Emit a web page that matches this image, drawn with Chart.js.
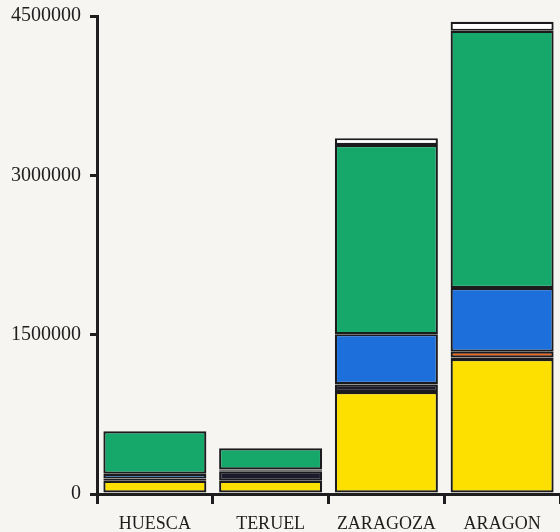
<!DOCTYPE html>
<html>
<head>
<meta charset="utf-8">
<script src="https://cdn.jsdelivr.net/npm/chart.js@4/dist/chart.umd.min.js"></script>
<style>
  html, body {
    margin: 0;
    padding: 0;
    background: #f6f5f1;
  }
  #chart {
    display: block;
  }
</style>
</head>
<body>
<canvas id="chart" width="560" height="532"></canvas>
<script>
const categories = ["HUESCA", "TERUEL", "ZARAGOZA", "ARAGON"];

const yellowValues = [125000, 125000, 960000, 1270000];
const darkValues = [20000, 90000, 70000, 15000];
const orangeValues = [0, 5000, 5000, 55000];
const blueValues = [45000, 10000, 470000, 600000];
const greenValues = [400000, 200000, 1780000, 2420000];
const whiteValues = [0, 0, 65000, 85000];

const yTicks = [0, 1500000, 3000000, 4500000];


function makeSet(data, color) {
  return {
    data: data,
    backgroundColor: color,
    borderColor: "#1b1b1d",
    borderWidth: 2.2,
    borderSkipped: false,
    categoryPercentage: 1,
    barPercentage: 0.89
  };
}


function renderChart() {
  const canvas = document.getElementById("chart");
  const ctx = canvas.getContext("2d");

  new Chart(ctx, {
    type: "bar",
    data: {
      labels: categories,
      datasets: [
        makeSet(yellowValues, "#fde000"),
        makeSet(darkValues, "#1b1b2b"),
        makeSet(orangeValues, "#f2661c"),
        makeSet(blueValues, "#1d6fdc"),
        makeSet(greenValues, "#15a86a"),
        makeSet(whiteValues, "#ffffff")
      ]
    },
    options: {
      responsive: false,
      animation: false,
      layout: {
        padding: { top: 0, right: 0, bottom: 0, left: 0 }
      },
      plugins: {
        legend: { display: false },
        tooltip: { enabled: false }
      },
      scales: {
        x: {
          stacked: true,
          offset: true,
          afterFit: scale => { scale.height = 38; },
          border: { display: true, color: "#1e1e1e", width: 3 },
          grid: {
            offset: true,
            drawOnChartArea: false,
            drawTicks: true,
            tickLength: 10,
            color: "#1e1e1e",
            lineWidth: 3
          },
          ticks: {
            color: "#1e1e1e",
            padding: 11,
            font: { family: "Liberation Serif", size: 18, lineHeight: 1 }
          }
        },
        y: {
          stacked: true,
          min: 0,
          max: 4500000,
          afterFit: scale => { scale.width = 97; },
          afterBuildTicks: scale => {
            scale.ticks = yTicks.map(v => ({ value: v }));
          },
          border: { display: true, color: "#1e1e1e", width: 3 },
          grid: {
            drawOnChartArea: false,
            drawTicks: true,
            tickLength: 7,
            color: "#1e1e1e",
            lineWidth: 3
          },
          ticks: {
            color: "#1e1e1e",
            padding: 9,
            font: { family: "Liberation Serif", size: 20, lineHeight: 0.7 },
            callback: value => String(value)
          }
        }
      }
    }
  });
}


document.addEventListener("DOMContentLoaded", renderChart);
</script>
</body>
</html>
